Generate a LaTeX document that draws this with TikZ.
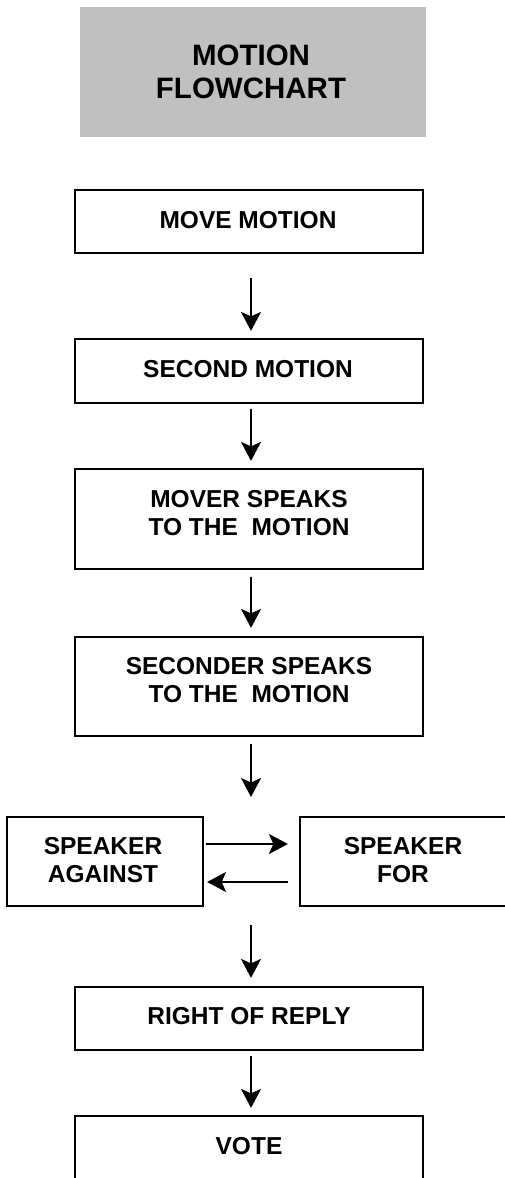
\documentclass[tikz,border=0pt]{standalone}
\usepackage{fontspec}
\setmainfont{Liberation Sans}
\usetikzlibrary{arrows.meta}
\definecolor{titlegray}{HTML}{C0C0C0}
\begin{document}
\begin{tikzpicture}[x=1pt,y=-1pt,
  box/.style={draw=black, line width=2.2pt, fill=white, inner sep=0pt},
  wide/.style={box, minimum width=348pt},
  caption/.style={font=\bfseries\fontsize{24.5}{28}\selectfont, align=center, inner sep=0pt},
  flow/.style={line width=2pt, -{Stealth[length=19pt,width=20pt,inset=4.5pt]}},
]
\useasboundingbox (0,0) rectangle (505,1178);
\fill[white] (0,0) rectangle (505,1178);

% title block
\node[fill=titlegray, minimum width=346pt, minimum height=130pt, inner sep=0pt] (title) at (253,72) {};
\node[font=\bfseries\fontsize{29.5}{33}\selectfont, align=center, inner sep=0pt] (title-text) at (251,71.5) {MOTION\\FLOWCHART};

% main column
\node[wide, minimum height=63pt] (move) at (249,221.5) {};
\node[caption] (move-text) at (248,220) {MOVE MOTION};

\node[wide, minimum height=64pt] (second) at (249,371) {};
\node[caption] (second-text) at (248,369) {SECOND MOTION};

\node[wide, minimum height=100pt] (mover) at (249,519) {};
\node[caption] (mover-text) at (249,513) {MOVER SPEAKS\\TO THE\ \ MOTION};

\node[wide, minimum height=99pt] (seconder) at (249,686.5) {};
\node[caption] (seconder-text) at (249,680.5) {SECONDER SPEAKS\\TO THE\ \ MOTION};

% debate pair
\node[box, minimum width=195.7pt, minimum height=89pt] (against) at (104.85,861.5) {};
\node[caption] (against-text) at (103,860.5) {SPEAKER\\AGAINST};

\node[box, minimum width=215pt, minimum height=89pt] (for) at (407.5,861.5) {};
\node[caption] (for-text) at (403,860.5) {SPEAKER\\FOR};

\node[wide, minimum height=63pt] (reply) at (249,1018.5) {};
\node[caption] (reply-text) at (249,1016) {RIGHT OF REPLY};

\node[wide, minimum height=64pt] (vote) at (249,1148) {};
\node[caption] (vote-text) at (249,1146) {VOTE};

% gap between the speaker boxes
\coordinate (gap-top) at (251,797);
\coordinate (gap-bot) at (251,925);

% connectors
\draw[flow, shorten <=24pt, shorten >=7pt] ([xshift=2pt]move.south) -- ([xshift=2pt]second.north);
\draw[flow, shorten <=5pt, shorten >=7pt] ([xshift=2pt]second.south) -- ([xshift=2pt]mover.north);
\draw[flow, shorten <=7pt, shorten >=8pt] ([xshift=2pt]mover.south) -- ([xshift=2pt]seconder.north);
\draw[flow, shorten <=7pt] ([xshift=2pt]seconder.south) -- (gap-top);
\draw[flow, shorten >=8pt] (gap-bot) -- ([xshift=2pt]reply.north);
\draw[flow, shorten <=5pt, shorten >=7pt] ([xshift=2pt]reply.south) -- ([xshift=2pt]vote.north);

\draw[flow, shorten <=2.3pt, shorten >=11pt] ([yshift=17.5pt]against.east) -- ([yshift=17.5pt]for.west);
\draw[flow, shorten <=11pt, shorten >=3.3pt] ([yshift=-20.5pt]for.west) -- ([yshift=-20.5pt]against.east);
\end{tikzpicture}
\end{document}
